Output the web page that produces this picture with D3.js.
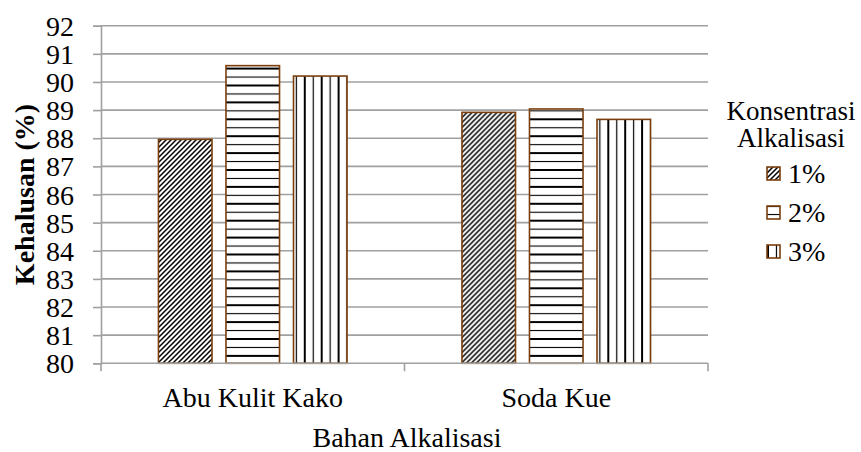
<!DOCTYPE html>
<html>
<head>
<meta charset="utf-8">
<script src="https://cdn.jsdelivr.net/npm/d3@7"></script>
<style>
  html, body { margin: 0; padding: 0; background: #fff; }
</style>
</head>
<body>
<svg id="chart" width="861" height="452"></svg>
<script>
// Data
const categories = ["Abu Kulit Kako", "Soda Kue"];
const seriesNames = ["1%", "2%", "3%"];
const values1 = [87.96, 88.92];
const values2 = [90.58, 89.04];
const values3 = [90.21, 88.67];
const yTicks = [80, 81, 82, 83, 84, 85, 86, 87, 88, 89, 90, 91, 92];
const yTitle = "Kehalusan (%)";
const xTitle = "Bahan Alkalisasi";
const legendTitle = ["Konsentrasi", "Alkalisasi"];

const seriesValues = [values1, values2, values3];

const svg = d3.select("#chart");
const serif = "Liberation Serif";
const gridColor = "#a0a0a0";
const barStroke = "#7a3f0c";
const fontSize = 28;

// Fill patterns
const defs = svg.append("defs");
const pDiag = defs.append("pattern").attr("id", "pat-diag")
  .attr("patternUnits", "userSpaceOnUse").attr("width", 5).attr("height", 5);
pDiag.append("rect").attr("width", 5).attr("height", 5).attr("fill", "#fff");
pDiag.append("path").attr("d", "M-1,6 L6,-1 M-1,1 L1,-1 M4,6 L6,4")
  .attr("stroke", "#000").attr("stroke-width", 1.5);

const pHor = defs.append("pattern").attr("id", "pat-hor")
  .attr("patternUnits", "userSpaceOnUse").attr("width", 10).attr("height", 16.9);
pHor.append("rect").attr("width", 10).attr("height", 16.9).attr("fill", "#fff");
pHor.append("line").attr("x1", 0).attr("x2", 10).attr("y1", 1).attr("y2", 1)
  .attr("stroke", "#000").attr("stroke-width", 2);
pHor.append("line").attr("x1", 0).attr("x2", 10).attr("y1", 9.45).attr("y2", 9.45)
  .attr("stroke", "#000").attr("stroke-width", 1.1);

const pVer = defs.append("pattern").attr("id", "pat-ver")
  .attr("patternUnits", "userSpaceOnUse").attr("width", 16.9).attr("height", 10);
pVer.append("rect").attr("width", 16.9).attr("height", 10).attr("fill", "#fff");
pVer.append("line").attr("y1", 0).attr("y2", 10).attr("x1", 1).attr("x2", 1)
  .attr("stroke", "#000").attr("stroke-width", 2);
pVer.append("line").attr("y1", 0).attr("y2", 10).attr("x1", 9.45).attr("x2", 9.45)
  .attr("stroke", "#000").attr("stroke-width", 1.2);

const fills = ["url(#pat-diag)", "url(#pat-hor)", "url(#pat-ver)"];

// Scales
const plotLeft = 101, plotRight = 708, plotTop = 25.7, plotBottom = 363.3;
const y = d3.scaleLinear().domain([80, 92]).range([plotBottom, plotTop]);
const x0 = d3.scaleBand().domain(categories).range([plotLeft, plotRight]).padding(0);
const x1 = d3.scaleBand().domain(seriesNames).range([0, x0.bandwidth()])
  .paddingInner(0.207).paddingOuter(0.851);

// Gridlines
svg.append("g").selectAll("line").data(yTicks.filter(v => v > 80)).join("line")
  .attr("x1", plotLeft).attr("x2", plotRight)
  .attr("y1", d => y(d)).attr("y2", d => y(d))
  .attr("stroke", gridColor).attr("stroke-width", 1.6);

// Y axis
const yAxis = svg.append("g").attr("transform", `translate(${plotLeft},0)`)
  .call(d3.axisLeft(y).tickValues(yTicks).tickSize(8).tickPadding(19).tickFormat(d3.format("d")));
yAxis.attr("font-family", serif).attr("font-size", fontSize);
yAxis.select(".domain").attr("stroke", gridColor).attr("stroke-width", 1.6);
yAxis.selectAll(".tick line").attr("stroke", gridColor).attr("stroke-width", 1.6);
yAxis.selectAll(".tick text").attr("font-size", fontSize)
  .attr("font-family", serif).attr("fill", "#000")
  .attr("dy", "0.34em");

// Bars
const groups = svg.append("g").selectAll("g").data(categories).join("g")
  .attr("transform", d => `translate(${x0(d)},0)`);
groups.selectAll("rect")
  .data((c, ci) => seriesNames.map((s, si) => ({ s, si, v: seriesValues[si][ci] })))
  .join("rect")
  .attr("x", d => x1(d.s))
  .attr("width", x1.bandwidth())
  .attr("y", d => y(d.v))
  .attr("height", d => y(80) - y(d.v))
  .attr("fill", d => fills[d.si])
  .attr("stroke", barStroke).attr("stroke-width", 1.6);

// X axis
const xAxis = svg.append("g").attr("transform", `translate(0,${plotBottom})`);
xAxis.append("line").attr("x1", plotLeft).attr("x2", plotRight)
  .attr("stroke", gridColor).attr("stroke-width", 1.6);
const xTickPos = [plotLeft, ...categories.slice(1).map(c => x0(c)), plotRight];
xAxis.selectAll("line.tk").data(xTickPos).join("line").attr("class", "tk")
  .attr("x1", d => d).attr("x2", d => d).attr("y1", 0).attr("y2", 8)
  .attr("stroke", gridColor).attr("stroke-width", 1.6);
xAxis.selectAll("text").data(categories).join("text")
  .attr("x", d => x0(d) + x0.bandwidth() / 2)
  .attr("y", 44)
  .attr("text-anchor", "middle").attr("font-size", fontSize)
  .attr("font-family", serif).attr("fill", "#000")
  .text(d => d);

// Axis titles
svg.append("text").attr("x", 407).attr("y", 447)
  .attr("text-anchor", "middle").attr("font-size", fontSize)
  .attr("font-family", serif).attr("fill", "#000").text(xTitle);
svg.append("text")
  .attr("transform", `translate(34,${(plotTop + plotBottom) / 2}) rotate(-90)`)
  .attr("text-anchor", "middle").attr("font-size", fontSize).attr("font-weight", "bold")
  .attr("font-family", serif).attr("fill", "#000")
  .text(yTitle);

// Legend
const legend = svg.append("g");
legend.selectAll("text.title").data(legendTitle).join("text").attr("class", "title")
  .attr("x", 791).attr("y", (d, i) => 120 + i * 27)
  .attr("text-anchor", "middle").attr("font-size", 27)
  .attr("font-family", serif).attr("fill", "#000").text(d => d);
const items = legend.selectAll("g.item").data(seriesNames).join("g").attr("class", "item")
  .attr("transform", (d, i) => `translate(767,${183 + i * 39})`);
items.append("rect").attr("x", 0).attr("y", -16).attr("width", 13).attr("height", 13)
  .attr("fill", (d, i) => fills[i]).attr("stroke", barStroke).attr("stroke-width", 1.6);
items.append("text").attr("x", 21).attr("y", 0).attr("font-size", fontSize)
  .attr("font-family", serif).attr("fill", "#000").text(d => d);
</script>
</body>
</html>
